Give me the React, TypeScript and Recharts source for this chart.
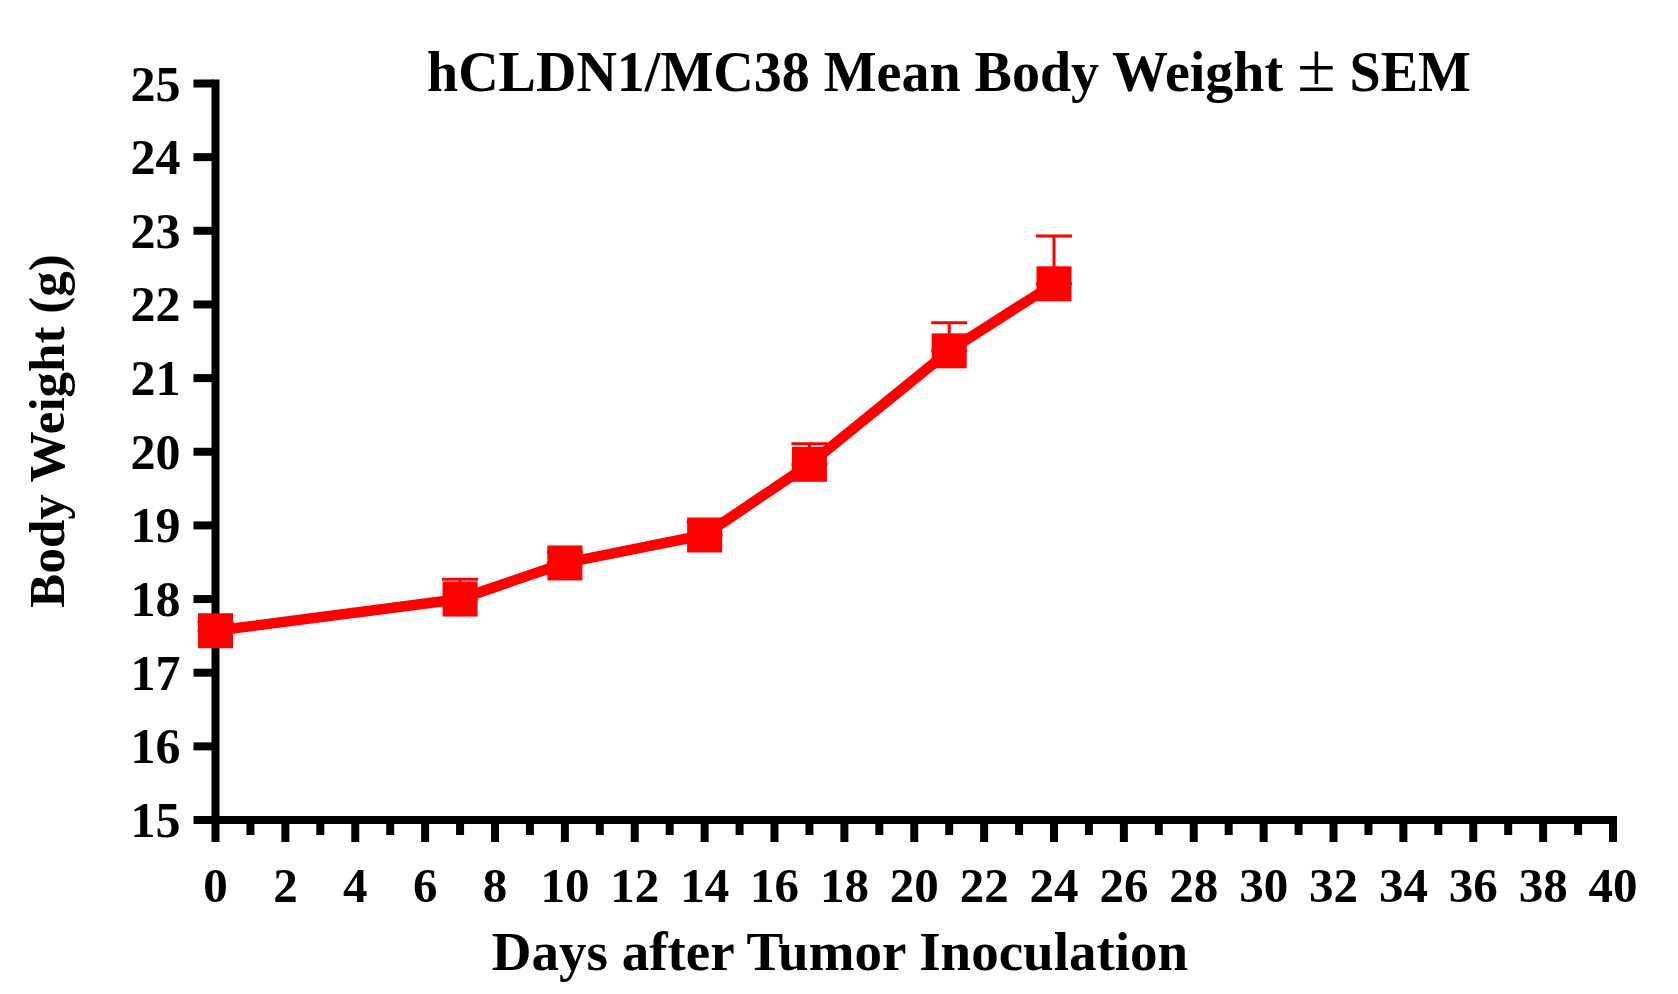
import { ErrorBar, Line, LineChart, XAxis, YAxis } from "recharts";

// Days after inoculation, mean body weight (g) and upper SEM.
const days = [0, 7, 10, 14, 17, 21, 24];
const meanWeight = [17.57, 18.0, 18.49, 18.87, 19.83, 21.37, 22.28];
const semWeight = [0.12, 0.27, 0.15, 0.18, 0.28, 0.38, 0.65];

const xTicks = [
  0, 1, 2, 3, 4, 5, 6, 7, 8, 9, 10, 11, 12, 13, 14, 15, 16, 17, 18, 19, 20,
  21, 22, 23, 24, 25, 26, 27, 28, 29, 30, 31, 32, 33, 34, 35, 36, 37, 38, 39,
  40,
];
const yTicks = [15, 16, 17, 18, 19, 20, 21, 22, 23, 24, 25];

const TITLE = "hCLDN1/MC38 Mean Body Weight";
const X_TITLE = "Days after Tumor Inoculation";
const Y_TITLE = "Body Weight (g)";

const FONT = '"Liberation Serif", "Times New Roman", Times, serif';
const RED = "#ff0000";

const rows = days.map((d, i) => ({
  day: d,
  weight: meanWeight[i],
  err: [0, semWeight[i]],
}));

function XTick(props: any) {
  const { x, y, payload } = props;
  const major = payload.value % 2 === 0;
  return (
    <g>
      <line
        x1={x}
        x2={x}
        y1={y}
        y2={y + (major ? 20 : 13)}
        stroke="#000"
        strokeWidth={8}
      />
      {major && (
        <text
          x={x}
          y={y + 80}
          textAnchor="middle"
          fontFamily={FONT}
          fontWeight="bold"
          fontSize={49}
          fill="#000"
        >
          {payload.value}
        </text>
      )}
    </g>
  );
}

function YTick(props: any) {
  const { x, y, payload } = props;
  return (
    <g>
      <line x1={x - 20} x2={x} y1={y} y2={y} stroke="#000" strokeWidth={8} />
      <text
        x={x - 33}
        y={y + 17}
        textAnchor="end"
        fontFamily={FONT}
        fontWeight="bold"
        fontSize={50}
        fill="#000"
      >
        {payload.value}
      </text>
    </g>
  );
}

function SquareDot(props: any) {
  const { cx, cy, index } = props;
  if (cx == null || cy == null) return null;
  return (
    <rect key={`sq-${index}`} x={cx - 17.5} y={cy - 17.5} width={35} height={35} fill={RED} />
  );
}

function XTitle() {
  return (
    <text
      x={840}
      y={970}
      textAnchor="middle"
      fontFamily={FONT}
      fontWeight="bold"
      fontSize={55}
      fill="#000"
    >
      {X_TITLE}
    </text>
  );
}

function YTitle() {
  return (
    <text
      transform="translate(64, 431) rotate(-90)"
      x={0}
      y={0}
      textAnchor="middle"
      fontFamily={FONT}
      fontWeight="bold"
      fontSize={51}
      fill="#000"
    >
      {Y_TITLE}
    </text>
  );
}

export default function App() {
  return (
    <div style={{ position: "absolute", left: 0, top: 0, width: 1678, height: 994, background: "#fff" }}>
      <LineChart
        width={1678}
        height={994}
        data={rows}
        margin={{ top: 83.5, right: 65, bottom: 0, left: 0 }}
      >
        <XAxis
          dataKey="day"
          type="number"
          domain={[0, 40]}
          ticks={xTicks}
          interval={0}
          tickSize={0}
          tickLine={false}
          axisLine={{ stroke: "#000", strokeWidth: 8, strokeLinecap: "square" }}
          tick={<XTick />}
          height={174}
          label={<XTitle />}
        />
        <YAxis
          type="number"
          domain={[15, 25]}
          ticks={yTicks}
          interval={0}
          tickSize={0}
          tickLine={false}
          axisLine={{ stroke: "#000", strokeWidth: 8, strokeLinecap: "square" }}
          tick={<YTick />}
          width={215.5}
          label={<YTitle />}
        />
        <Line
          dataKey="weight"
          type="linear"
          stroke={RED}
          strokeWidth={10.5}
          dot={<SquareDot />}
          activeDot={false}
          isAnimationActive={false}
        >
          <ErrorBar dataKey="err" direction="y" width={18} strokeWidth={3} stroke={RED} isAnimationActive={false} />
        </Line>
      </LineChart>
      <svg
        width={1678}
        height={130}
        style={{ position: "absolute", left: 0, top: 0, pointerEvents: "none" }}
      >
        <text
          x={949}
          y={91}
          textAnchor="middle"
          fontFamily={FONT}
          fontWeight="bold"
          fontSize={56}
          fill="#000"
        >
          {TITLE} <tspan fontWeight="normal" fontSize={70}>±</tspan> SEM
        </text>
      </svg>
    </div>
  );
}
